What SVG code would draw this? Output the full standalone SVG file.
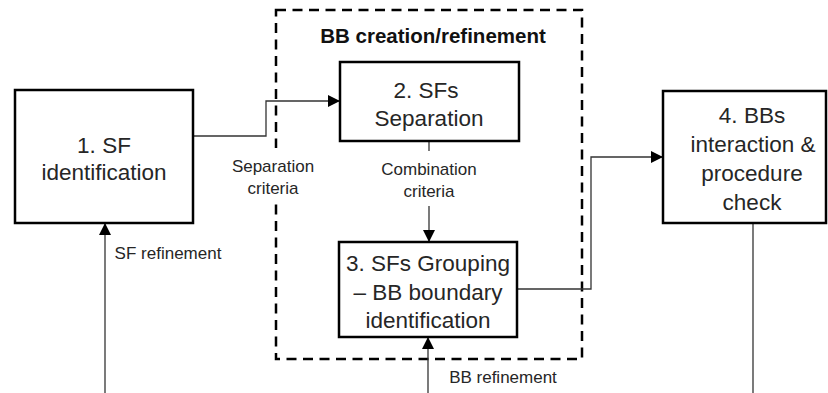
<svg xmlns="http://www.w3.org/2000/svg" width="828" height="393" viewBox="0 0 828 393">
<defs>
<marker id="arr" markerWidth="12" markerHeight="12" refX="11" refY="6" orient="auto" markerUnits="userSpaceOnUse">
<path d="M0,0 L12,6 L0,12 Z" fill="#000"/>
</marker>
<style>
.box{fill:#fff;stroke:#000;stroke-width:2.5}
.bt{font-family:"Liberation Sans",Arial,sans-serif;font-size:22.5px;fill:#262626;text-anchor:middle}
.lb{font-family:"Liberation Sans",Arial,sans-serif;font-size:17px;fill:#262626;text-anchor:middle}
.ln{fill:none;stroke:#333;stroke-width:1.3}
.bg{fill:#fff;stroke:none}
</style>
</defs>
<rect width="828" height="393" fill="#fff"/>
<g id="group-bb">
<rect x="276" y="10" width="306" height="349" fill="none" stroke="#000" stroke-width="2.5" stroke-dasharray="10,6.5"/>
<text x="433" y="43" style="font-family:'Liberation Sans',Arial,sans-serif;font-size:20.5px;font-weight:bold;fill:#111;text-anchor:middle">BB creation/refinement</text>
</g>
<g id="connectors">
<path class="ln" d="M193,136 H266 V101 H339" marker-end="url(#arr)"/>
<path class="ln" d="M429,141 V241" marker-end="url(#arr)"/>
<path class="ln" d="M517,289 H591 V157 H662" marker-end="url(#arr)"/>
<path class="ln" d="M105,393 V224" marker-end="url(#arr)"/>
<path class="ln" d="M428,393 V338" marker-end="url(#arr)"/>
<path class="ln" d="M753,223 V393"/>
<rect class="bg" x="204" y="148" width="140" height="56"/>
<text class="lb" x="273" y="172">Separation</text>
<text class="lb" x="273" y="194">criteria</text>
<rect class="bg" x="372" y="151" width="115" height="55"/>
<text class="lb" x="429" y="175">Combination</text>
<text class="lb" x="429" y="197">criteria</text>
<text class="lb" x="168" y="259">SF refinement</text>
<text class="lb" x="503" y="383">BB refinement</text>
</g>
<g id="node1">
<rect class="box" x="15" y="90" width="178" height="133"/>
<text class="bt" x="104" y="153">1. SF</text>
<text class="bt" x="104" y="180">identification</text>
</g>
<g id="node2">
<rect class="box" x="340" y="62" width="179" height="79"/>
<text class="bt" x="426" y="98">2. SFs</text>
<text class="bt" x="429" y="126">Separation</text>
</g>
<g id="node3">
<rect class="box" x="339" y="242" width="178" height="95"/>
<text class="bt" x="428" y="271">3. SFs Grouping</text>
<text class="bt" x="428" y="300">– BB boundary</text>
<text class="bt" x="428" y="328">identification</text>
</g>
<g id="node4">
<rect class="box" x="663" y="91" width="163" height="132"/>
<text class="bt" x="752" y="123">4. BBs</text>
<text class="bt" x="753" y="152">interaction &amp;</text>
<text class="bt" x="752" y="181">procedure</text>
<text class="bt" x="752" y="210">check</text>
</g>
</svg>
